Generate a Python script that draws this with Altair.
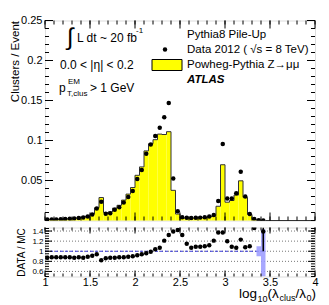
import altair as alt
import pandas as pd

# ---------------- data ----------------
bin_width = 0.05
n_bins = 49
bin_lo = [round(1.0 + bin_width * i, 3) for i in range(n_bins)]

data_vals = [0.0012, 0.0013, 0.0014, 0.0016, 0.0018, 0.0021, 0.0025, 0.0030, 0.0037, 0.0050,
             0.0075, 0.0150, 0.0235, 0.0085, 0.0092, 0.0135, 0.0167, 0.0225, 0.0295, 0.0370,
             0.0520, 0.0630, 0.0835, 0.0950, 0.1055, 0.1160, 0.1290, 0.1470, 0.0525, 0.0115,
             0.0040, 0.0033, 0.0032, 0.0033, 0.0036, 0.0042, 0.0050, 0.0070, 0.0245, 0.0955,
             0.0275, 0.0275, 0.0340, 0.0610, 0.0300, 0.0080, 0.0020, 0.0003, 0.0001]

mc_vals = [0.0014, 0.0015, 0.0016, 0.0018, 0.0020, 0.0024, 0.0029, 0.0034, 0.0042, 0.0056,
           0.0082, 0.0160, 0.0287, 0.0099, 0.0106, 0.0155, 0.0190, 0.0255, 0.0330, 0.0412,
           0.0565, 0.0670, 0.0870, 0.0960, 0.1010, 0.1080, 0.1075, 0.1110, 0.0377, 0.0081,
           0.0030, 0.0029, 0.0030, 0.0030, 0.0033, 0.0038, 0.0045, 0.0058, 0.0178, 0.0697,
           0.0229, 0.0250, 0.0318, 0.0496, 0.0290, 0.0075, 0.0014, 0.0003, 0.0001]

ratio_vals = [0.87, 0.88, 0.88, 0.88, 0.88, 0.88, 0.87, 0.88, 0.87, 0.89,
              0.91, 0.94, 0.82, 0.86, 0.87, 0.87, 0.88, 0.88, 0.89, 0.90,
              0.92, 0.94, 0.96, 0.99, 1.04, 1.07, 1.21, 1.32, 1.39, 1.42,
              1.32, 1.15, 1.07, 1.09, 1.09, 1.10, 1.12, 1.21, 1.37, 1.37,
              1.20, 1.09, 1.07, 1.23, 1.08, 1.10, 1.46, None, 1.39]

# MC statistical band in the ratio (only visible in the last bins), visible part
band_bins = [3.35, 3.40]
band_lo = [0.90, 0.50]
band_hi = [1.10, 1.43]

# data error bar in the ratio (last bin), visible part
err_x = [3.425]
err_lo = [1.00]
err_hi = [1.47]

main_y_ticks = [0.05, 0.1, 0.15, 0.2, 0.25]
ratio_y_ticks = [0.6, 0.8, 1, 1.2, 1.4]
x_ticks = [1, 1.5, 2, 2.5, 3, 3.5, 4]

# ---------------- layout ----------------
W, H1, H2 = 270, 200, 49
FONT = "Liberation Sans"
YELLOW = "#ffff00"

xs = alt.Scale(domain=[1, 4], nice=False, zero=False)
ys_main = alt.Scale(domain=[0, 0.25], nice=False, zero=False)
ys_ratio = alt.Scale(domain=[0.5, 1.47], nice=False, zero=False)

centers = [round(b + bin_width / 2, 4) for b in bin_lo]

hist_x = bin_lo + [bin_lo[-1] + bin_width, bin_lo[-1] + bin_width, 4.0]
hist_y = mc_vals + [mc_vals[-1], 0.0, 0.0]
hist_df = pd.DataFrame({"x": hist_x, "y": hist_y, "o": list(range(len(hist_x)))})
pts_df = pd.DataFrame({"x": centers, "y": data_vals})
ratio_df = pd.DataFrame({"x": [c for c, r in zip(centers, ratio_vals) if r is not None],
                         "r": [r for r in ratio_vals if r is not None]})

# ---------------- axes (identical objects reused in every layer) ----------------
main_yaxis = alt.Axis(values=main_y_ticks, labelExpr="'' + datum.value", ticks=False, domain=False,
                      grid=False, labelFontSize=11, labelPadding=3, labelFont=FONT, labelColor="black",
                      title="Clusters / Event", titleFont=FONT, titleFontSize=11.5,
                      titleFontWeight="normal", titleColor="black", titleAngle=-90,
                      titleAlign="right", titleBaseline="middle", titleX=-30, titleY=0)
ratio_xaxis = alt.Axis(values=x_ticks, labelExpr="'' + datum.value", ticks=False, domain=False,
                       grid=False, labelFontSize=11, labelPadding=0, labelFont=FONT,
                       labelColor="black", labelFlush=False, labelOverlap=False, title=None)
ratio_yaxis = alt.Axis(values=ratio_y_ticks, labelExpr="'' + datum.value", ticks=False, domain=False,
                       grid=False, labelFontSize=8, labelPadding=2, labelFont=FONT, labelColor="black",
                       labelOverlap=False, title="DATA / MC", titleFont=FONT, titleFontSize=10,
                       titleFontWeight="normal", titleColor="black", titleAngle=-90,
                       titleAlign="center", titleBaseline="middle", titleX=-24, titleY=H2 / 2)


def frange(a, b, step):
    out = []
    k = 0
    while a + k * step <= b + 1e-9:
        out.append(round(a + k * step, 4))
        k += 1
    return out


def x_tick_layers(vals, length, H, axis):
    base = alt.Chart(pd.DataFrame({"v": vals}))
    enc = alt.X("v:Q", scale=xs, axis=axis)
    return [
        base.mark_rule(color="black", strokeWidth=1).encode(x=enc, y=alt.value(H), y2=alt.value(H - length)),
        base.mark_rule(color="black", strokeWidth=1).encode(x=enc, y=alt.value(0), y2=alt.value(length)),
    ]


def y_tick_layers(vals, length, scale, axis):
    base = alt.Chart(pd.DataFrame({"v": vals}))
    enc = alt.Y("v:Q", scale=scale, axis=axis)
    return [
        base.mark_rule(color="black", strokeWidth=1).encode(y=enc, x=alt.value(0), x2=alt.value(length)),
        base.mark_rule(color="black", strokeWidth=1).encode(y=enc, x=alt.value(W), x2=alt.value(W - length)),
    ]


def txt(text, x, y, size=11, align="left", baseline="middle", weight="normal", style="normal"):
    return alt.Chart(pd.DataFrame({"t": [text]})).mark_text(
        align=align, baseline=baseline, fontSize=size, fontWeight=weight,
        fontStyle=style, font=FONT, color="black"
    ).encode(x=alt.value(x), y=alt.value(y), text="t:N")


# ---------------- main panel ----------------
MX = alt.X("x:Q", scale=xs, axis=None)
MY = alt.Y("y:Q", scale=ys_main, axis=main_yaxis)

area = alt.Chart(hist_df).mark_area(interpolate="step-after", color=YELLOW, opacity=1).encode(
    x=MX, y=MY, order="o:Q")
outline = alt.Chart(hist_df).mark_line(interpolate="step-after", color="#333333", strokeWidth=1).encode(
    x=MX, y=MY, order="o:Q")
dots = alt.Chart(pts_df).mark_circle(size=20, color="black", opacity=1, clip=True).encode(x=MX, y=MY)

main_ticks = (x_tick_layers(frange(1, 4, 0.1), 4, H1, None) + x_tick_layers(x_ticks, 8, H1, None)
              + y_tick_layers(frange(0, 0.25, 0.01), 4, ys_main, main_yaxis)
              + y_tick_layers(main_y_ticks, 8, ys_main, main_yaxis))

one = pd.DataFrame({"a": [0]})
leg_box = alt.Chart(one).mark_rect(fill=YELLOW, stroke="black", strokeWidth=1).encode(
    x=alt.value(107), x2=alt.value(137), y=alt.value(39), y2=alt.value(50))
leg_dot = alt.Chart(one).mark_circle(size=20, color="black", opacity=1).encode(
    x=alt.value(120), y=alt.value(29))

annotations = [
    txt("∫", 22, 17, size=24, align="left"),
    txt("L dt ~ 20 fb", 32, 17, size=12),
    txt("-1", 91, 10, size=8),
    txt("0.0 < |η| < 0.2", 15, 44, size=12),
    txt("p", 14, 67, size=12),
    txt("EM", 23, 61, size=8),
    txt("T,clus", 22, 73, size=8),
    txt("> 1 GeV", 45, 67, size=12),
    txt("Pythia8 Pile-Up", 142, 14, size=11.5),
    txt("Data 2012 ( √s = 8 TeV)", 142, 29, size=11.5),
    txt("Powheg-Pythia Z→μμ", 142, 44.5, size=11.5),
    txt("ATLAS", 142, 59, size=11.5, weight="bold", style="italic"),
]

main = alt.layer(area, outline, *main_ticks, dots, leg_box, leg_dot, *annotations).properties(
    width=W, height=H1)

# ---------------- ratio panel ----------------
RX = alt.X("x:Q", scale=xs, axis=ratio_xaxis)

grid = alt.Chart(pd.DataFrame({"v": ratio_y_ticks})).mark_rule(
    color="#777777", strokeDash=[1, 2], strokeWidth=1).encode(
    y=alt.Y("v:Q", scale=ys_ratio, axis=ratio_yaxis), x=alt.value(0), x2=alt.value(W))
unity = alt.Chart(pd.DataFrame({"x": [1.0], "x2": [bin_lo[-1] + bin_width], "y": [1.0]})).mark_rule(
    color="#3a3ad8", strokeDash=[3, 2], strokeWidth=1.2).encode(
    x=RX, x2="x2:Q", y=alt.Y("y:Q", scale=ys_ratio, axis=ratio_yaxis))
band = alt.Chart(pd.DataFrame({"x": band_bins, "x2": [b + bin_width for b in band_bins],
                               "lo": band_lo, "hi": band_hi})).mark_rect(
    color="#9999ff", opacity=0.85, clip=True).encode(
    x=RX, x2="x2:Q", y=alt.Y("lo:Q", scale=ys_ratio, axis=ratio_yaxis), y2="hi:Q")
errbar = alt.Chart(pd.DataFrame({"x": err_x, "lo": err_lo, "hi": err_hi})).mark_rule(
    color="black", strokeWidth=1.5, clip=True).encode(
    x=RX, y=alt.Y("lo:Q", scale=ys_ratio, axis=ratio_yaxis), y2="hi:Q")
rdots = alt.Chart(ratio_df).mark_circle(size=20, color="black", opacity=1, clip=True).encode(
    x=RX, y=alt.Y("r:Q", scale=ys_ratio, axis=ratio_yaxis))

ratio_ticks = (x_tick_layers(frange(1, 4, 0.1), 3, H2, ratio_xaxis)
               + x_tick_layers(x_ticks, 6, H2, ratio_xaxis)
               + y_tick_layers(frange(0.5, 1.45, 0.05), 4, ys_ratio, ratio_yaxis)
               + y_tick_layers(ratio_y_ticks, 7, ys_ratio, ratio_yaxis))

xtitle = [
    txt("log", 194, 70.5, size=13.5, baseline="alphabetic"),
    txt("10", 212.5, 74, size=9, baseline="alphabetic"),
    txt("(λ", 222.5, 70.5, size=13.5, baseline="alphabetic"),
    txt("clus", 234.5, 73.5, size=9, baseline="alphabetic"),
    txt("/λ", 250.5, 70.5, size=13.5, baseline="alphabetic"),
    txt("0", 261.5, 73.5, size=9, baseline="alphabetic"),
    txt(")", 266.5, 70.5, size=13.5, baseline="alphabetic"),
]

ratio = alt.layer(grid, unity, band, errbar, *ratio_ticks, rdots, *xtitle).properties(width=W, height=H2)

chart = alt.vconcat(main, ratio, spacing=3).properties(
    padding={"left": 0, "top": 5.5, "right": 0, "bottom": 0}
).configure_view(stroke="black", strokeWidth=1).configure(font=FONT)

chart.save("out.html", embed_options={"renderer": "svg", "actions": False})
